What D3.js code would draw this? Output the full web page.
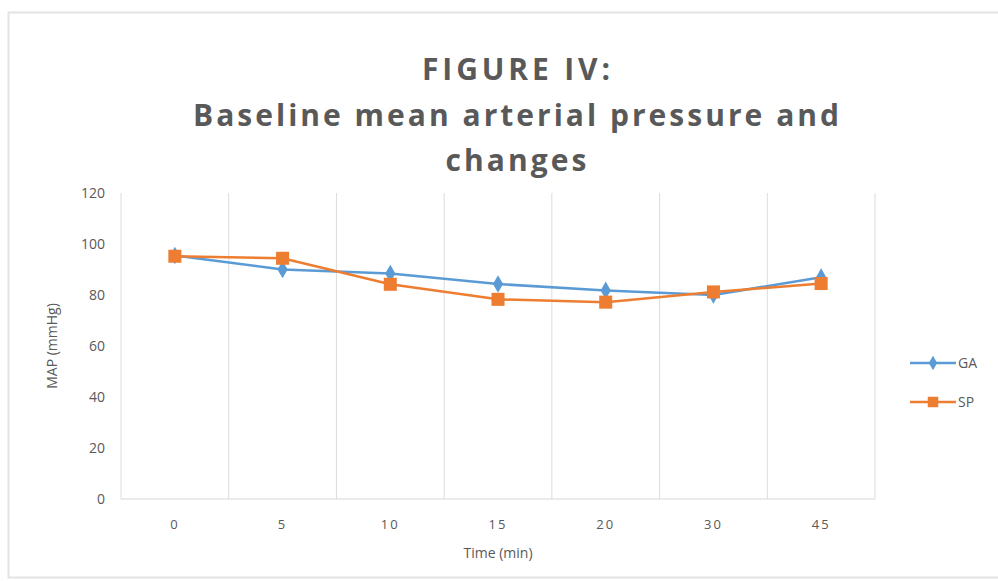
<!DOCTYPE html>
<meta charset="utf-8">
<script src="https://d3js.org/d3.v7.min.js"></script>
<style>
body { margin: 0; background: #fff; font-family: "Open Sans", "Liberation Sans", sans-serif; }
svg { display: block; }
</style>
<body>
<div id="chart"></div>
<script>

var times = ["0", "5", "10", "15", "20", "30", "45"];
var gaValues = [95.5, 90, 88.4, 84.3, 81.8, 80, 87];
var spValues = [95.2, 94.4, 84.2, 78.3, 77.2, 81.2, 84.5];
var yTicks = [0, 20, 40, 60, 80, 100, 120];
var seriesNames = ["GA", "SP"];

var width = 998, height = 581;
var margin = {left: 121, right: 123, top: 193, bottom: 82};

var svg = d3.select("#chart").append("svg")
  .attr("width", width)
  .attr("height", height);

// chart frame
svg.append("rect")
  .attr("x", 8.5).attr("y", 12.5)
  .attr("width", 1010).attr("height", 565)
  .attr("fill", "#fff")
  .attr("stroke", "#e3e3e3")
  .attr("stroke-width", 2);

var x = d3.scaleBand()
  .domain(times)
  .range([margin.left, width - margin.right]);

var y = d3.scaleLinear()
  .domain([0, 120])
  .range([height - margin.bottom, margin.top]);

// vertical gridlines at category boundaries
var bounds = times.map(function(t) { return x(t); }).concat([x.range()[1]]);
svg.append("g").selectAll("line")
  .data(bounds)
  .enter().append("line")
  .attr("x1", function(d) { return d; })
  .attr("x2", function(d) { return d; })
  .attr("y1", y(120))
  .attr("y2", y(0))
  .attr("stroke", "#dcdcdc")
  .attr("stroke-width", 1);

// bottom axis line
svg.append("line")
  .attr("x1", x.range()[0]).attr("x2", x.range()[1])
  .attr("y1", y(0)).attr("y2", y(0))
  .attr("stroke", "#d6d6d6");

// y tick labels
svg.append("g").selectAll("text")
  .data(yTicks)
  .enter().append("text")
  .attr("x", 105)
  .attr("y", function(d) { return y(d); })
  .attr("dy", "0.35em")
  .attr("text-anchor", "end")
  .attr("fill", "#595959")
  .style("font-size", "14px")
  .text(function(d) { return d; });

// x tick labels
svg.append("g").selectAll("text")
  .data(times)
  .enter().append("text")
  .attr("x", function(d) { return x(d) + x.bandwidth() / 2; })
  .attr("y", 524)
  .attr("dy", "0.35em")
  .attr("text-anchor", "middle")
  .attr("fill", "#595959")
  .style("font-size", "13px")
  .style("letter-spacing", "2px")
  .text(function(d) { return d; });

// axis titles
svg.append("text")
  .attr("x", 498).attr("y", 553)
  .attr("dy", "0.35em")
  .attr("text-anchor", "middle")
  .attr("fill", "#595959")
  .style("font-size", "14px")
  .text("Time (min)");

svg.append("text")
  .attr("transform", "translate(52," + y(60) + ") rotate(-90)")
  .attr("dy", "0.35em")
  .attr("text-anchor", "middle")
  .attr("fill", "#595959")
  .style("font-size", "14px")
  .text("MAP (mmHg)");

// title
var titleLines = [
  {text: "FIGURE IV:", y: 80, len: 188},
  {text: "Baseline mean arterial pressure and", y: 126, len: 646},
  {text: "changes", y: 171, len: 141}
];
svg.append("g").selectAll("text")
  .data(titleLines)
  .enter().append("text")
  .attr("x", 516)
  .attr("y", function(d) { return d.y; })
  .attr("text-anchor", "middle")
  .attr("fill", "#595959")
  .attr("textLength", function(d) { return d.len; })
  .attr("lengthAdjust", "spacing")
  .style("font-size", "30px")
  .style("font-weight", "bold")
  .text(function(d) { return d.text; });

var colors = {GA: "#5b9bd5", SP: "#ed7d31"};
var data = {GA: gaValues, SP: spValues};

var line = d3.line()
  .x(function(d, i) { return x(times[i]) + x.bandwidth() / 2; })
  .y(function(d) { return y(d); });

var diamond = d3.symbol().type(d3.symbolDiamond).size(90);
var square = d3.symbol().type(d3.symbolSquare).size(170);

seriesNames.forEach(function(name) {
  svg.append("path")
    .datum(data[name])
    .attr("d", line)
    .attr("fill", "none")
    .attr("stroke", colors[name])
    .attr("stroke-width", 2.5);

  svg.append("g").selectAll("path")
    .data(data[name])
    .enter().append("path")
    .attr("transform", function(d, i) {
      return "translate(" + (x(times[i]) + x.bandwidth() / 2) + "," + y(d) + ")";
    })
    .attr("d", name === "GA" ? diamond : square)
    .attr("fill", colors[name]);
});

// legend
var legend = svg.append("g").selectAll("g")
  .data(seriesNames)
  .enter().append("g")
  .attr("transform", function(d, i) { return "translate(910," + (363 + i * 39) + ")"; });

legend.append("line")
  .attr("x1", 0).attr("x2", 46)
  .attr("stroke", function(d) { return colors[d]; })
  .attr("stroke-width", 2.5);

legend.append("path")
  .attr("transform", "translate(23,0)")
  .attr("d", function(d) { return d === "GA" ? d3.symbol().type(d3.symbolDiamond).size(60)() : d3.symbol().type(d3.symbolSquare).size(110)(); })
  .attr("fill", function(d) { return colors[d]; });

legend.append("text")
  .attr("x", 48)
  .attr("dy", "0.35em")
  .attr("fill", "#595959")
  .style("font-size", "14px")
  .text(function(d) { return d; });

</script>
</body>
